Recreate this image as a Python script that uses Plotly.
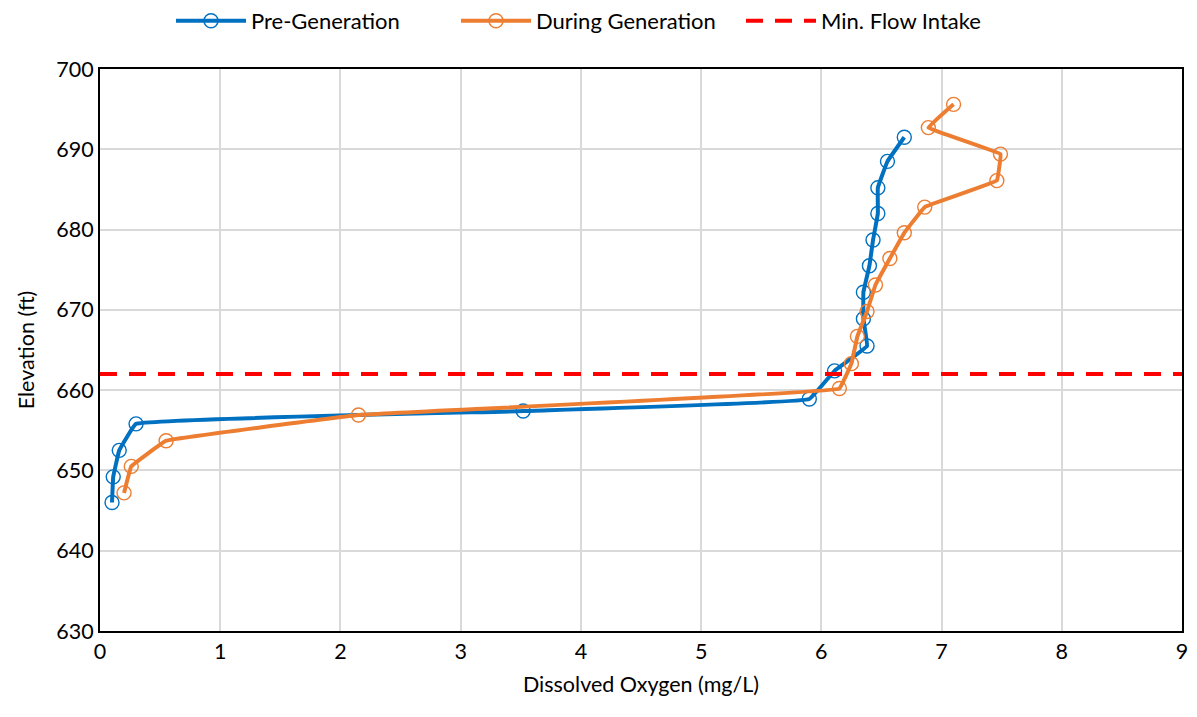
import plotly.graph_objects as go

pre_do = [0.10, 0.11, 0.16, 0.30, 3.52, 5.90, 6.11, 6.38, 6.35, 6.35, 6.40, 6.43, 6.47, 6.47, 6.55, 6.69]
pre_elev = [646.0, 649.2, 652.5, 655.8, 657.4, 658.9, 662.4, 665.5, 668.9, 672.2, 675.5, 678.7, 682.0, 685.2, 688.5, 691.5]

dur_do = [0.20, 0.26, 0.55, 2.15, 6.15, 6.25, 6.30, 6.38, 6.45, 6.57, 6.69, 6.86, 7.46, 7.49, 6.89, 7.10]
dur_elev = [647.2, 650.5, 653.7, 656.9, 660.2, 663.3, 666.7, 669.8, 673.1, 676.4, 679.6, 682.8, 686.1, 689.4, 692.7, 695.6]

intake_elev = 662.0
x_range = [0, 9]
y_range = [630, 700]

FONT = "Lato"
FS = 21.5
blue = "#0070C0"
orange = "#ED7D31"

fig = go.Figure()
fig.add_trace(go.Scatter(
    x=pre_do, y=pre_elev, mode="lines+markers", name="Pre-Generation",
    line=dict(color=blue, width=4, shape="spline", smoothing=0.2),
    marker=dict(symbol="circle-open", size=14, color=blue, line=dict(width=1.4, color=blue)),
))
fig.add_trace(go.Scatter(
    x=dur_do, y=dur_elev, mode="lines+markers", name="During Generation",
    line=dict(color=orange, width=4, shape="spline", smoothing=0.15),
    marker=dict(symbol="circle-open", size=14, color=orange, line=dict(width=1.4, color=orange)),
))
fig.add_trace(go.Scatter(
    x=x_range, y=[intake_elev, intake_elev], mode="lines", name="Min. Flow Intake",
    line=dict(color="#FF0000", width=4, dash="17px,12px"),
))

fig.update_layout(
    width=1197, height=717,
    margin=dict(l=100, r=15, t=69, b=86, autoexpand=False),
    paper_bgcolor="white", plot_bgcolor="white",
    font=dict(family=FONT, size=FS, color="#000000"),
    legend=dict(orientation="h", x=0.5, xanchor="center", xref="container",
                y=1.0, yanchor="top", yref="container",
                font=dict(size=22), itemwidth=70,
                entrywidth=200, entrywidthmode="pixels",
                bgcolor="rgba(0,0,0,0)", traceorder="normal"),
    showlegend=True,
)
fig.update_xaxes(
    range=x_range, dtick=1, showgrid=True, gridcolor="#D9D9D9", gridwidth=1.5,
    showline=True, linecolor="black", linewidth=2, mirror=True,
    zeroline=False, ticks="", automargin=False,
    title=dict(text="Dissolved Oxygen (mg/L)", font=dict(size=FS), standoff=14),
    tickfont=dict(size=FS),
)
fig.update_yaxes(
    range=y_range, dtick=10, showgrid=True, gridcolor="#D9D9D9", gridwidth=1.5,
    showline=True, linecolor="black", linewidth=2, mirror=True,
    zeroline=False, ticks="", automargin=False,
    title=dict(text="Elevation (ft)", font=dict(size=FS), standoff=16),
    tickfont=dict(size=FS),
)

fig.write_html("out.html", config={"displayModeBar": False},
               post_script="document.body.style.margin='0';")
